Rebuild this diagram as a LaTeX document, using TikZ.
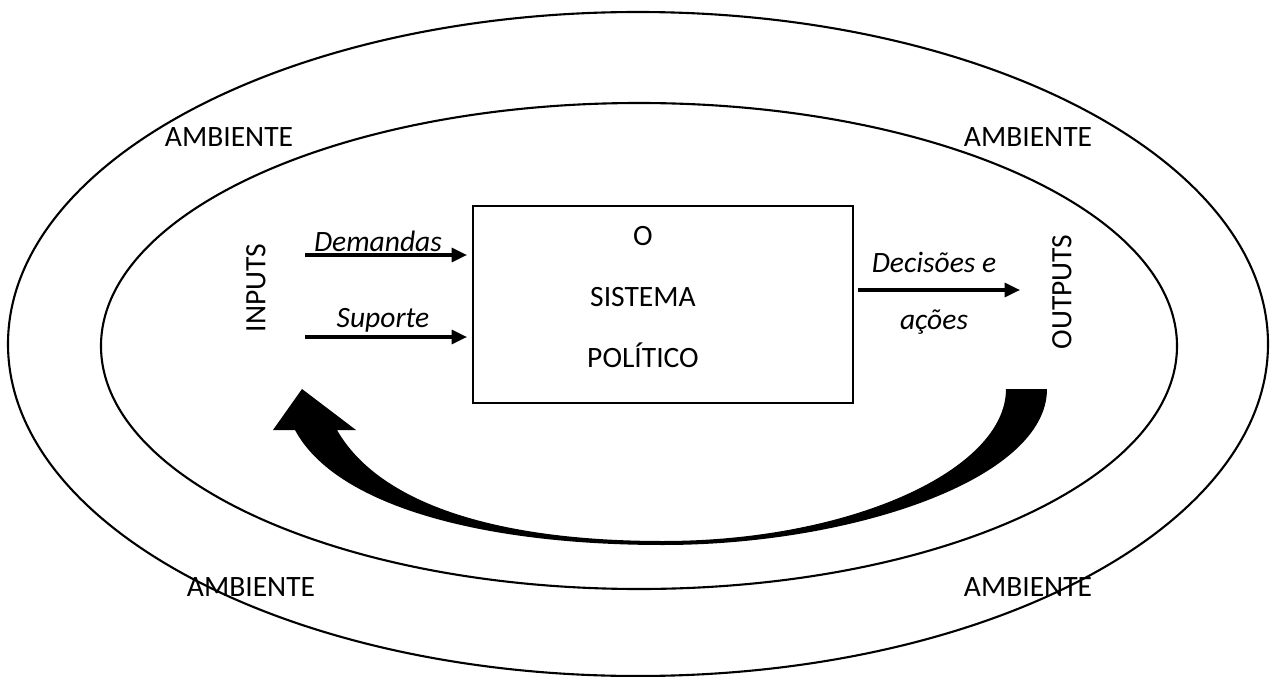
\documentclass[tikz,border=0pt]{standalone}
\usepackage{fontspec}
\setmainfont{Carlito}
\usetikzlibrary{arrows.meta}
\tikzset{
  lbl/.style={font=\fontsize{21}{25}\selectfont},
  ital/.style={font=\fontsize{21}{25}\selectfont\itshape},
  flow/.style={line width=2.2pt,-{Triangle[length=11pt,width=10pt]}},
}
\begin{document}
\begin{tikzpicture}[x=0.025cm,y=-0.025cm,line width=1.5pt]
  \useasboundingbox (0,0) rectangle (1272,677);
  % ambiente
  \draw (638,344) ellipse [x radius=630,y radius=332];
  \draw (639,346) ellipse [x radius=538,y radius=243];
  \draw
    (229,137) node[lbl] (amb1){AMBIENTE}
    (1028,137) node[lbl] (amb2){AMBIENTE}
    (251,587) node[lbl] (amb3){AMBIENTE}
    (1028,587) node[lbl] (amb4){AMBIENTE};
  % sistema
  \node[draw,minimum width=9.5cm,minimum height=4.925cm] (sistema) at (663,304.5) {};
  \draw
    (643,236) node[lbl] (o){O}
    (643,297) node[lbl] (sist){SISTEMA}
    (643,355) node[lbl] (pol){POLÍTICO};
  \draw
    (256,288) node[lbl,rotate=90] (inputs){INPUTS}
    (1062,292) node[lbl,rotate=90] (outputs){OUTPUTS}
    (378,241) node[ital] (dem){Demandas}
    (383,320) node[ital] (sup){Suporte}
    (934,262) node[ital] (dec){Decisões e}
    (934,322) node[ital] (acoes){ações};
  \coordinate (d1) at (305,255);
  \coordinate (d2) at (467,255);
  \coordinate (s1) at (305,337);
  \coordinate (s2) at (467,337);
  \coordinate (o1) at (858,290);
  \coordinate (o2) at (1020,290);
  \begin{scope}[flow]
    \draw (d1) to (d2);
    \draw (s1) to (s2);
    \draw (o1) to (o2);
  \end{scope}
  % retroalimentacao
  \fill (1047,389) .. controls (1047,480) and (850,545) .. (663,545)
    .. controls (480,545) and (335,505) .. (295,430)
    -- (273,430) -- (302,389) -- (356,430) -- (337,430)
    .. controls (380,505) and (500,541) .. (663,541)
    .. controls (850,541) and (1006,470) .. (1006,389) -- cycle;
\end{tikzpicture}
\end{document}
